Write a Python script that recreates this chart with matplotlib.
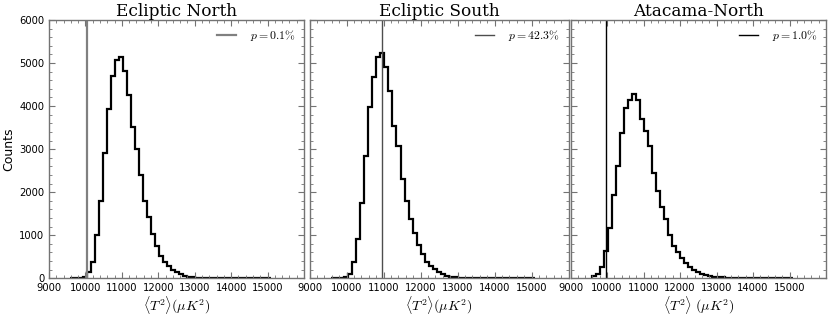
import numpy as np
import matplotlib
matplotlib.use("Agg")
import matplotlib.pyplot as plt
from matplotlib.ticker import MultipleLocator

plt.rcParams['mathtext.fontset'] = 'cm'
plt.rcParams['font.family'] = ['DejaVu Sans']

# Histogram bins: 50 bins of width 110 starting at 9590
bin_start = 9590
bin_width = 110
n_bins = 50

titles = ["Ecliptic North", "Ecliptic South", "Atacama-North"]
p_labels = [r"$p=0.1\%$", r"$p=42.3\%$", r"$p=1.0\%$"]
observed = [10050, 10960, 9960]
xlabels = [r"$\langle T^2\rangle (\mu K^2)$", r"$\langle T^2\rangle (\mu K^2)$",
           r"$\langle T^2\rangle\ (\mu K^2)$"]

counts_north = [0, 3, 10, 37, 150, 386, 1010, 1790, 2910, 3925,
                4710, 5070, 5150, 4820, 4250, 3520, 3000, 2390, 1800, 1430,
                1020, 757, 518, 386, 286, 193, 139, 93, 60, 40,
                25, 18, 12, 9, 6, 4, 3, 2, 2, 1,
                1, 1, 0, 1, 0, 0, 0, 0, 0, 0]
counts_south = [0, 2, 10, 37, 100, 372, 913, 1742, 2848, 3970,
                4670, 5150, 5240, 4900, 4350, 3540, 3080, 2310, 1800, 1370,
                1045, 773, 557, 386, 286, 209, 153, 100, 60, 37,
                22, 15, 10, 7, 5, 3, 2, 2, 1, 1,
                1, 0, 0, 0, 0, 0, 0, 0, 0, 0]
counts_atacama = [45, 108, 262, 641, 1158, 1935, 2609, 3368, 3965, 4135,
                  4280, 4150, 3700, 3430, 3065, 2450, 2036, 1664, 1370, 1006,
                  751, 619, 464, 348, 271, 193, 139, 100, 75, 55,
                  40, 30, 22, 16, 12, 9, 7, 5, 4, 3,
                  2, 2, 1, 1, 1, 0, 0, 0, 0, 0]
all_counts = [counts_north, counts_south, counts_atacama]

vline_colors = ['0.5', '0.3', 'black']
vline_widths = [1.6, 1.0, 1.0]

xticks = [9000, 10000, 11000, 12000, 13000, 14000, 15000]
yticks = [0, 1000, 2000, 3000, 4000, 5000, 6000]

W, H = 831, 316
fig = plt.figure(figsize=(W / 100, H / 100), dpi=100)

ax_px = [(49, 304), (309.5, 568.5), (570.5, 826)]
bottom_px, top_px = 278.3, 20

edges = bin_start + bin_width * np.arange(n_bins + 1)
spine_col = '0.45'

for i, (l, r) in enumerate(ax_px):
    ax = fig.add_axes([l / W, (H - bottom_px) / H, (r - l) / W, (bottom_px - top_px) / H])
    ax.stairs(all_counts[i], edges, color='black', lw=1.6, baseline=0)
    ax.axvline(observed[i], color=vline_colors[i], lw=vline_widths[i], label=p_labels[i])
    ax.set_xlim(9000, 16000)
    ax.set_ylim(0, 6000)
    ax.set_xticks(xticks)
    ax.set_yticks(yticks)
    ax.xaxis.set_minor_locator(MultipleLocator(200))
    ax.yaxis.set_minor_locator(MultipleLocator(200))
    ax.tick_params(which='both', direction='in', top=True, right=True,
                   color=spine_col, labelsize=7.2)
    ax.tick_params(which='major', length=4, width=0.8)
    ax.tick_params(which='minor', length=2, width=0.6)
    for s in ax.spines.values():
        s.set_color(spine_col)
        s.set_linewidth(1.0)
    if i > 0:
        ax.set_yticklabels([])
    else:
        ax.set_ylabel("Counts", fontsize=9, labelpad=3)
    ax.set_xlabel(xlabels[i], fontsize=10, labelpad=1)
    ax.set_title(titles[i], family='DejaVu Serif', fontsize=12.2, pad=2)
    ax.legend(loc='upper right', frameon=False, fontsize=8.5, handlelength=1.6,
              borderaxespad=0.3, handletextpad=1.2)

fig.savefig("out.png", dpi=100)
